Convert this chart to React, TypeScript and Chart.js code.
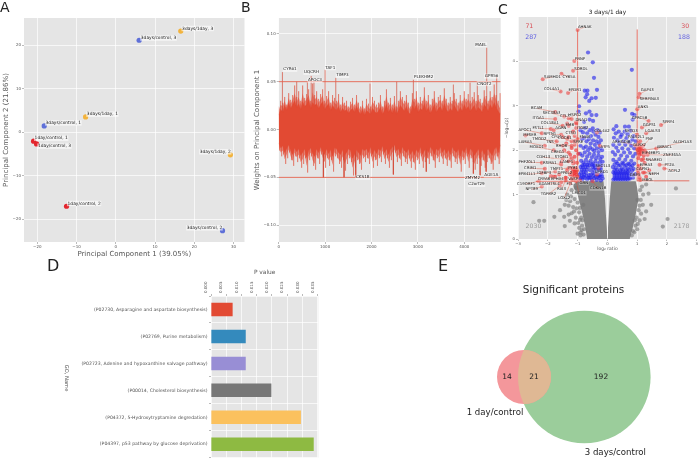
import React, { useEffect, useRef } from "react";
import { Chart, registerables } from "chart.js";
Chart.register(...registerables);

const W = 699, H = 462;
const SANS = "'DejaVu Sans'";
const TEXT = "#555555";
const PANEL = "#e5e5e5";
const RED = "#e24a33";

/* ---------- Panel A ---------- */
const pcaNames = ["1day/control, 1", "1day/control, 2", "1day/control, 3", "3days/control, 1", "3days/control, 2", "3days/control, 3", "3days/1day, 1", "3days/1day, 2", "3days/1day, 3"];
const pcaX = [-20.96, -12.56, -20.2, -18.25, 27.2, 5.94, -7.7, 29.2, 16.55];
const pcaY = [-2.06, -17, -2.7, 1.44, -22.6, 21.1, 3.5, -5.2, 23.2];
const pcaLabelX = [-20.7, -12.3, -19.86, -17.9, 18.08, 6.37, -7.38, 21.4, 16.9];
const pcaLabelY = [-1.38, -16.35, -3.2, 2.13, -21.95, 21.6, 4.13, -4.5, 23.8];
const pcaColors = ["#e3262e", "#e3262e", "#e3262e", "#5f70d8", "#5f70d8", "#5f70d8", "#f2b33d", "#f2b33d", "#f2b33d"];
const pcaTicksX = [-20, -10, 0, 10, 20, 30];
const pcaTicksY = [-20, -10, 0, 10, 20];

/* ---------- Panel B ---------- */
const weightBinWidth = 43;
const weightTicksX = [0, 1000, 2000, 3000, 4000];
const weightTicksY = [-0.1, -0.05, 0, 0.05, 0.1];
const spikeUp = [0.024,0.030,0.028,0.034,0.026,0.038,0.031,0.036,0.046,0.034,0.040,0.030,0.046,0.033,0.037,0.042,0.030,0.048,0.036,0.040,0.032,0.037,0.042,0.030,0.035,0.040,0.028,0.036,0.033,0.030,0.037,0.026,0.034,0.028,0.030,0.024,0.029,0.033,0.026,0.036,0.028,0.024,0.030,0.022,0.032,0.027,0.024,0.034,0.030,0.026,0.028,0.036,0.024,0.030,0.042,0.028,0.033,0.026,0.035,0.024,0.030,0.040,0.034,0.030,0.036,0.028,0.024,0.038,0.032,0.040,0.028,0.034,0.030,0.044,0.030,0.036,0.026,0.032,0.040,0.028,0.034,0.036,0.030,0.043,0.032,0.028,0.034,0.030,0.038,0.032,0.028,0.036,0.030,0.040,0.032,0.037,0.030,0.034,0.039,0.030,0.036,0.032,0.028,0.041,0.035,0.030,0.040,0.034,0.047,0.036,0.030,0.038];
const spikeDown = [-0.022,-0.028,-0.026,-0.036,-0.030,-0.024,-0.032,-0.038,-0.028,-0.034,-0.030,-0.040,-0.036,-0.030,-0.045,-0.032,-0.028,-0.038,-0.042,-0.030,-0.036,-0.026,-0.034,-0.040,-0.030,-0.038,-0.032,-0.044,-0.028,-0.030,-0.036,-0.040,-0.032,-0.043,-0.036,-0.030,-0.034,-0.048,-0.040,-0.032,-0.036,-0.042,-0.030,-0.034,-0.030,-0.036,-0.028,-0.040,-0.032,-0.038,-0.030,-0.034,-0.026,-0.036,-0.030,-0.040,-0.032,-0.028,-0.024,-0.034,-0.030,-0.038,-0.028,-0.034,-0.036,-0.030,-0.040,-0.034,-0.042,-0.032,-0.036,-0.028,-0.040,-0.034,-0.030,-0.036,-0.028,-0.032,-0.040,-0.030,-0.034,-0.028,-0.036,-0.030,-0.038,-0.032,-0.040,-0.028,-0.034,-0.036,-0.030,-0.044,-0.032,-0.036,-0.028,-0.040,-0.030,-0.034,-0.042,-0.036,-0.030,-0.038,-0.032,-0.040,-0.034,-0.030,-0.036,-0.042,-0.032,-0.028,-0.036,-0.030];
const midUp = [0.020,0.026,0.024,0.030,0.023,0.033,0.027,0.031,0.038,0.029,0.034,0.026,0.038,0.029,0.032,0.036,0.026,0.039,0.031,0.034,0.028,0.032,0.036,0.026,0.030,0.034,0.024,0.031,0.028,0.026,0.031,0.022,0.029,0.024,0.026,0.021,0.025,0.028,0.022,0.031,0.024,0.020,0.026,0.019,0.027,0.023,0.021,0.029,0.026,0.022,0.024,0.030,0.021,0.026,0.035,0.024,0.028,0.022,0.030,0.021,0.026,0.034,0.029,0.026,0.031,0.024,0.021,0.032,0.028,0.034,0.024,0.029,0.026,0.036,0.026,0.031,0.022,0.028,0.034,0.024,0.029,0.031,0.026,0.036,0.028,0.024,0.029,0.026,0.032,0.028,0.024,0.031,0.026,0.034,0.028,0.032,0.026,0.029,0.033,0.026,0.031,0.028,0.024,0.035,0.030,0.026,0.034,0.029,0.038,0.031,0.026,0.022];
const midDown = [-0.018,-0.024,-0.022,-0.031,-0.026,-0.021,-0.028,-0.033,-0.024,-0.029,-0.026,-0.034,-0.031,-0.026,-0.038,-0.028,-0.024,-0.032,-0.036,-0.026,-0.031,-0.022,-0.029,-0.034,-0.026,-0.032,-0.028,-0.037,-0.024,-0.026,-0.031,-0.034,-0.028,-0.036,-0.031,-0.026,-0.029,-0.040,-0.034,-0.028,-0.031,-0.036,-0.026,-0.029,-0.026,-0.031,-0.024,-0.034,-0.028,-0.032,-0.026,-0.029,-0.022,-0.031,-0.026,-0.034,-0.028,-0.024,-0.021,-0.029,-0.026,-0.032,-0.024,-0.029,-0.031,-0.026,-0.034,-0.029,-0.036,-0.028,-0.031,-0.024,-0.034,-0.029,-0.026,-0.031,-0.024,-0.028,-0.034,-0.026,-0.029,-0.024,-0.031,-0.026,-0.032,-0.028,-0.034,-0.024,-0.029,-0.031,-0.026,-0.037,-0.028,-0.031,-0.024,-0.034,-0.026,-0.029,-0.036,-0.031,-0.026,-0.032,-0.028,-0.034,-0.029,-0.026,-0.031,-0.036,-0.028,-0.024,-0.031,-0.022];
const coreUp = [0.015,0.021,0.018,0.025,0.020,0.028,0.022,0.026,0.030,0.023,0.027,0.021,0.029,0.024,0.026,0.031,0.022,0.028,0.025,0.027,0.022,0.026,0.029,0.021,0.024,0.027,0.020,0.025,0.022,0.020,0.024,0.018,0.022,0.019,0.021,0.017,0.020,0.022,0.018,0.024,0.019,0.016,0.021,0.015,0.020,0.018,0.016,0.022,0.019,0.017,0.019,0.023,0.016,0.020,0.026,0.018,0.022,0.017,0.023,0.016,0.020,0.025,0.022,0.019,0.024,0.018,0.016,0.025,0.021,0.026,0.018,0.022,0.020,0.027,0.019,0.023,0.017,0.021,0.026,0.018,0.022,0.024,0.019,0.027,0.021,0.018,0.022,0.019,0.025,0.021,0.018,0.023,0.019,0.026,0.021,0.024,0.019,0.022,0.025,0.019,0.023,0.021,0.018,0.026,0.023,0.019,0.026,0.022,0.028,0.023,0.019,0.016];
const coreDown = [-0.014,-0.019,-0.017,-0.024,-0.020,-0.016,-0.022,-0.026,-0.019,-0.023,-0.020,-0.027,-0.024,-0.020,-0.029,-0.022,-0.019,-0.025,-0.028,-0.020,-0.024,-0.018,-0.023,-0.026,-0.020,-0.025,-0.021,-0.028,-0.019,-0.020,-0.024,-0.026,-0.021,-0.027,-0.024,-0.020,-0.022,-0.030,-0.026,-0.021,-0.024,-0.027,-0.020,-0.022,-0.020,-0.024,-0.018,-0.026,-0.021,-0.025,-0.020,-0.022,-0.017,-0.024,-0.020,-0.026,-0.021,-0.018,-0.016,-0.022,-0.020,-0.025,-0.018,-0.022,-0.024,-0.020,-0.026,-0.022,-0.027,-0.021,-0.024,-0.018,-0.026,-0.022,-0.020,-0.024,-0.018,-0.021,-0.026,-0.020,-0.022,-0.018,-0.024,-0.020,-0.025,-0.021,-0.026,-0.018,-0.022,-0.024,-0.020,-0.028,-0.021,-0.024,-0.018,-0.026,-0.020,-0.022,-0.027,-0.024,-0.020,-0.025,-0.021,-0.026,-0.022,-0.020,-0.024,-0.027,-0.021,-0.018,-0.024,-0.016];
const peakX = [80, 388, 618, 700, 760, 1000, 1230, 1968, 2543, 2902, 3764, 4124, 4280, 4483, 4698, 963, 1408, 1660, 2471, 3180, 4195, 4340, 4470];
const peakY = [0.06, 0.05, 0.05, 0.056, 0.05, 0.0625, 0.054, 0.048, 0.05, 0.052, 0.047, 0.049, 0.05, 0.0855, 0.055, -0.05, -0.05, -0.05, -0.047, -0.044, -0.046, -0.048, -0.044];
const thresholdX = [0, 4784];
const thresholdUp = [0.05, 0.05];
const thresholdDown = [-0.05, -0.05];
const geneNames = ["CYR61", "UQCRH", "APOC3", "TAF1", "TIMP3", "PLEKHM2", "CKS1B", "MAEL", "GPR56", "CNOT2", "ZMYM2", "C2orf29", "AGE1A"];
const geneX = [100, 545, 631, 1005, 1242, 2916, 1666, 4238, 4440, 4280, 4015, 4087, 4432];
const geneY = [0.0628, 0.0597, 0.0513, 0.0646, 0.0566, 0.0552, -0.05, 0.0885, 0.0558, 0.048, -0.0504, -0.0573, -0.0476];

/* ---------- Panel C ---------- */
const volcanoTicksX = [-3, -2, -1, 0, 1, 2, 3];
const volcanoTicksY = [0, 1, 2, 3, 4];
const grayLeftX = [-1.15, -1.0, -0.85, -0.75, -0.68, -0.5, -0.3, -0.13, -0.08, -0.05, -0.02, 0];
const grayLeftTop = [1.22, 1.3, 1.3, 1.3, 1.3, 1.3, 1.3, 1.3, 0.9, 0.55, 0.25, 0.02];
const grayLeftBottom = [1.18, 1.0, 0.6, 0.3, 0, 0, 0, 0, 0, 0, 0, 0];
const grayRightX = [0, 0.02, 0.05, 0.08, 0.13, 0.3, 0.5, 0.75, 0.85, 0.95, 1.0, 1.05];
const grayRightTop = [0.02, 0.25, 0.55, 0.9, 1.3, 1.3, 1.3, 1.3, 1.3, 1.3, 1.15, 0.9];
const grayRightBottom = [0, 0, 0, 0, 0, 0, 0, 0, 0.25, 0.55, 0.75, 0.9];
const grayPoints = [[-2.48,0.83],[-2.29,0.41],[-2.12,0.41],[-1.59,0.65],[-1.78,0.5],[-1.26,0.41],[-1.43,0.29],[-1.2,0.58],[-0.92,0.43],[-0.81,0.77],[-1.43,0.77],[-1.03,0.69],[-1.1,0.9],[-1.25,0.85],[-1.35,1.0],[-0.95,0.25],[-1.0,0.12],[-0.9,0.15],[-1.1,0.35],[-1.3,0.55],[-1.45,0.5],[-0.95,0.6],[-1.2,1.1],[-1.05,1.15],[-0.85,0.3],[-0.8,0.1],[-1.0,0.82],[-1.15,0.72],[-0.88,0.48],[-0.78,0.22],[-1.12,0.62],[-1.06,0.48],[-0.98,0.36],[-0.9,0.08],[-0.86,0.2],[-1.22,0.96],[-1.3,0.75],[-1.38,0.88],[-0.92,0.7],[-0.84,0.42],
[2.3,1.14],[2.02,0.45],[1.86,0.28],[1.47,0.77],[1.19,0.77],[1.3,1.23],[1.01,0.88],[1.13,0.57],[1.08,0.42],[0.95,0.3],[0.9,0.15],[1.2,1.0],[1.1,1.1],[1.05,0.65],[0.82,0.08],[0.98,0.48],[1.0,0.22],[1.25,0.45],[1.12,0.88],[0.92,0.42],[1.02,0.34],[0.86,0.18],[1.16,1.18],[1.08,0.75],[1.3,0.62],[1.38,1.02]];
const bluePoints = [[-0.65,4.2],[-0.49,3.98],[-0.45,3.63],[0.82,3.81],[-0.35,3.36],[-0.76,3.34],[-0.67,3.34],[-0.68,3.26],[-0.73,3.19],[-0.53,3.17],[-0.39,3.18],[-0.61,3.11],[-0.95,2.99],[0.59,2.91],[0.83,2.82],[0.91,2.79],[0.85,2.69],[-0.97,2.87],[-0.6,2.87],[-0.72,2.83],[-0.37,2.79],[-0.53,2.79],[-0.78,2.64],[-0.6,2.69],[-0.48,2.66],[0.3,2.54],[0.59,2.53],[0.72,2.53],[0.21,2.47],[-0.49,2.49],
[-0.9,2.45],[-0.82,2.4],[-0.75,2.5],[-0.68,2.38],[-0.6,2.45],[-0.55,2.32],[-0.47,2.42],[-0.4,2.35],[-0.33,2.45],[-0.3,2.3],[-0.25,2.4],[-0.85,2.25],[-0.78,2.28],[-0.7,2.2],[-0.62,2.25],[-0.56,2.15],[-0.48,2.22],[-0.42,2.12],[-0.36,2.2],[-0.28,2.15],[-0.22,2.22],[-0.9,2.1],[-0.8,2.05],[-0.72,2.08],[-0.65,2.0],[-0.58,2.06],[-0.5,2.02],[-0.44,1.98],[-0.36,2.04],[-0.3,1.96],[-0.24,2.05],[-0.18,2.0],
[-0.92,1.92],[-0.84,1.88],[-0.76,1.95],[-0.68,1.86],[-0.6,1.92],[-0.52,1.84],[-0.45,1.9],[-0.38,1.82],[-0.3,1.88],[-0.24,1.8],[-0.18,1.85],[-0.88,1.76],[-0.8,1.72],[-0.72,1.78],[-0.64,1.72],[-0.56,1.76],[-0.48,1.7],[-0.4,1.75],[-0.34,1.68],[-0.26,1.72],[-0.2,1.66],[-0.16,1.74],
[-0.9,1.62],[-0.86,1.56],[-0.82,1.62],[-0.78,1.56],[-0.74,1.62],[-0.7,1.56],[-0.66,1.62],[-0.88,1.5],[-0.8,1.5],[-0.72,1.5],[-0.5,1.62],[-0.46,1.56],[-0.42,1.62],[-0.38,1.56],[-0.48,1.49],[-0.4,1.48],[-0.58,1.55],[-0.28,1.55],[-0.22,1.58],[-0.18,1.5],
[-0.92,1.36],[-0.84,1.34],[-0.76,1.38],[-0.68,1.34],[-0.6,1.38],[-0.52,1.33],[-0.44,1.37],[-0.36,1.33],[-0.28,1.37],[-0.22,1.32],[-0.16,1.36],[-0.62,1.44],[-0.3,1.44],[-0.86,1.43],[-0.55,1.45],[-0.7,1.42],[-0.78,1.45],[-0.94,1.45],[-0.22,1.45],[-0.48,1.42],[-0.4,1.4],[-0.36,1.46],[-0.88,1.38],[-0.8,1.4],[-0.64,1.38],[-0.56,1.38],[-0.32,1.4],[-0.26,1.42],[-0.18,1.42],[-0.84,1.66],[-0.76,1.68],[-0.68,1.67],[-0.6,1.66],[-0.52,1.68],[-0.44,1.65],[-0.36,1.62],[-0.3,1.6],[-0.24,1.62],
[0.28,2.38],[0.38,2.42],[0.48,2.35],[0.58,2.42],[0.68,2.36],[0.78,2.44],[0.88,2.32],[0.22,2.28],[0.34,2.22],[0.44,2.3],[0.54,2.2],[0.64,2.27],[0.74,2.18],[0.84,2.24],[0.95,2.2],[0.2,2.12],[0.3,2.06],[0.4,2.14],[0.5,2.04],[0.6,2.12],[0.7,2.02],[0.8,2.1],[0.9,2.04],
[0.18,1.96],[0.26,1.9],[0.36,1.98],[0.46,1.88],[0.56,1.95],[0.66,1.86],[0.76,1.94],[0.86,1.86],[0.94,1.92],[0.2,1.78],[0.3,1.74],[0.4,1.8],[0.5,1.72],[0.6,1.78],[0.7,1.7],[0.8,1.76],[0.9,1.7],[0.18,1.62],[0.28,1.6],[0.38,1.65],[0.48,1.58],[0.58,1.64],[0.68,1.58],[0.78,1.62],[0.88,1.58],[0.24,1.68],[0.34,1.7],[0.44,1.66],[0.54,1.7],[0.64,1.66],[0.74,1.68],[0.84,1.66],[0.24,1.55],[0.33,1.56],[0.43,1.55],[0.53,1.56],[0.63,1.55],[0.73,1.55],[0.83,1.54],
[0.2,1.5],[0.24,1.42],[0.2,1.34],[0.28,1.5],[0.32,1.42],[0.28,1.34],[0.36,1.5],[0.4,1.42],[0.36,1.34],[0.44,1.5],[0.48,1.42],[0.44,1.34],[0.52,1.5],[0.56,1.42],[0.52,1.34],[0.6,1.5],[0.64,1.42],[0.6,1.34],[0.68,1.5],[0.72,1.42],[0.68,1.34],[0.76,1.36],[0.8,1.46],[0.86,1.38],[0.94,1.46],[0.24,1.37],[0.32,1.37],[0.4,1.37],[0.48,1.37],[0.56,1.37],[0.64,1.37],[0.72,1.37],[0.24,1.47],[0.32,1.47],[0.4,1.47],[0.48,1.47],[0.56,1.47],[0.64,1.47],[0.72,1.47]];
const redPoints = [[-1.1,2.2],[-1.2,2.05],[-1.05,2.0],[-1.25,1.9],[-1.1,1.85],[-0.98,1.92],[-1.3,1.75],[-1.15,1.7],[-1.02,1.72],[-1.22,1.6],[-1.1,1.58],[-1.02,1.54],[-1.14,1.52],[-1.06,1.5],[-1.25,1.45],[-1.1,1.42],[-1.0,1.4],[-1.35,1.55],[-1.4,1.38],[-1.2,1.35],[-1.55,1.72],[-1.62,1.45],[-1.75,1.4],[-1.9,1.42],[-1.45,2.0],[-1.38,2.15],[-1.3,2.3],[-1.15,2.42],[-1.05,2.6],[-1.3,2.55],[-1.5,2.3],[-1.08,1.55],[-1.12,1.48],[-1.04,1.46],[-1.16,1.56],[-1.18,1.44],[-1.2,1.5],[-1.06,1.6],
[1.05,2.15],[1.12,2.05],[1.02,2.0],[1.2,1.98],[1.08,1.9],[1.3,1.95],[1.04,1.82],[1.15,1.78],[1.25,1.72],[1.05,1.65],[1.12,1.58],[1.2,1.5],[1.04,1.48],[1.3,1.4],[1.08,1.38],[1.4,1.55],[1.06,2.03],[1.1,1.98],[1.04,1.94],[1.14,1.92],[1.16,2.0],[1.22,1.88],[1.08,2.08]];
// name, label x, label y, marker x, marker y
const volcanoLabels: [string, number, number, number, number][] = [
  ["AHNAK",-0.76,4.77,-1.0,4.71],["PRNP",-0.92,4.06,-1.11,4.01],["SORDL",-0.89,3.84,-1.15,3.79],["CYB5A",-1.29,3.65,-1.54,3.72],["SAMHD1",-1.84,3.65,-2.17,3.6],["COL4A1",-1.87,3.37,-1.57,3.32],["EPDR1",-1.09,3.36,-1.32,3.29],
  ["GAP43",1.34,3.35,1.08,3.27],["SERPINA3",1.41,3.15,1.05,3.19],["ANK5",1.2,2.98,1.0,2.92],["GPRC5B",1.08,2.73,1.38,2.66],["SPRY4",2.05,2.64,1.8,2.57],["GGPS1",1.41,2.57,1.16,2.51],["LGALS3",1.52,2.44,1.3,2.38],["SETD3",0.8,2.44,1.0,2.35],["PALS2L1",0.97,2.3,1.1,2.2],["PNP",1.41,2.25,1.2,2.1],["ALDH1A3",2.52,2.18,1.64,2.04],["GLRX2",1.08,2.12,1.0,2.02],["ABRACL",1.91,2.07,1.25,2.0],["ARHGDIB",0.47,2.19,0.95,2.1],["EIF4EBP1",1.47,1.94,1.1,1.98],["ZNF365A",2.17,1.89,1.35,1.9],
  ["SNARED",1.56,1.78,1.2,1.8],["EPHA3",1.3,1.67,1.05,1.62],["PT2A",2.08,1.67,1.75,1.67],["ACPL2",2.25,1.54,1.91,1.59],["NEFH",1.56,1.46,1.25,1.5],["CAPN1",1.19,1.58,1.02,1.55],["MBOL",1.36,1.32,1.1,1.33],["GBP5",0.93,1.44,1.06,1.44],
  ["CREG1",-1.67,1.96,-1.3,1.95],["CDH13",-2.15,1.84,-1.5,1.8],["STOM1",-1.54,1.84,-1.2,1.82],["PHF20L1",-2.7,1.73,-2.2,1.72],["RSMA1",-1.93,1.71,-1.55,1.68],["LAMP1",-1.37,1.73,-1.15,1.75],["CRIM1",-2.59,1.59,-2.1,1.58],["TMPT1",-1.7,1.57,-1.3,1.6],["PYR1",-1.15,1.61,-1.04,1.58],["EPB41L1",-2.7,1.46,-2.2,1.48],["IGFBP3",-2.12,1.48,-1.75,1.52],["DPP6L2",-1.43,1.49,-1.14,1.5],["CRYAB",-2.13,1.35,-1.8,1.4],["EPHX4",-1.68,1.35,-1.4,1.38],["VASP",-1.15,1.35,-1.02,1.4],["C19ORF1",-2.73,1.24,-2.3,1.3],["ADAMTSL4",-1.95,1.23,-1.55,1.28],["FTL",-1.26,1.23,-1.15,1.33],["NPT89",-2.54,1.12,-2.2,1.18],["RAI3",-1.54,1.12,-1.4,1.32],["LMCD1",-0.95,1.03,-1.05,1.3],["TGFBR2",-1.98,1.01,-1.6,1.2],["LOXL2",-1.45,0.92,-1.25,1.25],["GRN",-0.79,1.27,-0.92,1.32],["CDKN1B",-0.31,1.14,-0.5,1.3],["SEC1L3",-0.15,1.65,-0.3,1.6],["UPRD1",-0.2,1.5,-0.35,1.45],
  ["BCAM",-2.37,2.94,-1.75,2.86],["SEC38A3",-1.87,2.83,-1.45,2.76],["CTL3",-1.43,2.78,-1.2,2.7],["HSPG2",-1.09,2.79,-1.3,2.72],["ITGA1",-2.32,2.72,-1.75,2.7],["COL18A1",-1.93,2.61,-1.5,2.55],["EMB",-1.26,2.57,-1.35,2.6],["DNAJ1",-0.87,2.68,-1.05,2.63],["ITGB2",-0.83,2.51,-1.05,2.5],["FSTL1",-2.32,2.49,-1.9,2.48],["AGRN",-1.56,2.49,-1.8,2.45],["APOC1",-2.76,2.45,-2.2,2.38],["MFSER",-2.6,2.34,-2.75,2.33],["RPTN1",-1.93,2.36,-1.55,2.35],["CTSD",-1.23,2.38,-1.1,2.32],["COL4A2",-0.18,2.43,-0.35,2.4],["TMOD2",-2.28,2.25,-1.7,2.2],["CPU1",-1.7,2.3,-1.35,2.25],["COCB1",-1.43,2.27,-1.2,2.2],["FNAB",-0.76,2.3,-1.0,2.25],["LAMA5",-2.76,2.18,-2.1,2.1],["TNS",-1.93,2.18,-1.5,2.1],["MOXD1",-2.37,2.07,-1.8,2.0],["RHOB",-1.54,2.1,-1.2,2.1],["SPRE",-0.98,2.18,-1.1,2.12],["ATP5",-0.07,2.08,-0.25,2.1]
];
const significanceLines = [[-1, 1.3], [-1, 4.72], [null, null], [1, 1.3], [1, 4.72], [null, null], [-2.4, 1.3], [-1, 1.3], [null, null], [1, 1.31], [2.75, 1.31]];
const countLabels: [string, number, number, string][] = [["71",-2.62,4.78,"#d94d55"],["287",-2.56,4.53,"#5a5ae0"],["30",2.61,4.78,"#d94d55"],["188",2.57,4.53,"#5a5ae0"],["2030",-2.48,0.28,"#9a9a9a"],["2178",2.49,0.28,"#9a9a9a"]];

/* ---------- Panel D ---------- */
const pathways = ["(P02730, Asparagine and aspartate biosynthesis)", "(P02769, Purine metabolism)", "(P02723, Adenine and hypoxanthine salvage pathway)", "(P00014, Cholesterol biosynthesis)", "(P04372, 5-Hydroxytryptamine degredation)", "(P04397, p53 pathway by glucose deprivation)"];
const pValues = [0.0071, 0.0114, 0.0114, 0.0198, 0.0295, 0.0337];
const pColors = ["#e24a33", "#348abd", "#988ed5", "#777777", "#fbc15e", "#8eba42"];
const pTicks = [0, 0.005, 0.01, 0.015, 0.02, 0.025, 0.03, 0.035];

/* ---------- Panel E ---------- */
const vennX = [94, 154.3];
const vennY = [127, 127];
const vennR = [27, 66.3];
const vennColors = ["#f4979b", "#9bcd9b"];
const vennOverlapColor = "#dfb894";
const vennNotes: [string, number, number, number][] = [["Significant proteins",143.5,40.7,10.5],["14",77,127,7.5],["21",104,127,7.5],["192",171,127,7.5],["1 day/control",65,162.7,8.6],["3 days/control",185.3,202.3,8.6]];

const panelLetters: [string, number, number, number][] = [["A", 0, 0, 14], ["B", 241, 0, 14], ["C", 498, 2, 14], ["D", 47, 258, 16], ["E", 438, 258, 16]];

/* ---------- helpers ---------- */
type Note = { text: string; x: number; y: number; size: number; color?: string; align?: CanvasTextAlign; box?: string; pixel?: boolean; rotate?: number };
const notesPlugin = (items: Note[]) => ({
  id: "notes",
  afterDatasetsDraw(chart: any) {
    const { ctx, scales } = chart;
    for (const n of items) {
      const px = n.pixel ? n.x : scales.x.getPixelForValue(n.x);
      const py = n.pixel ? n.y : scales.y.getPixelForValue(n.y);
      ctx.save();
      ctx.translate(px, py);
      if (n.rotate) ctx.rotate(n.rotate);
      ctx.font = `${n.size}px ${SANS}`;
      ctx.textAlign = n.align || "center";
      ctx.textBaseline = "middle";
      if (n.box) {
        const w = ctx.measureText(n.text).width;
        const left = n.align === "left" ? 0 : -w / 2;
        ctx.fillStyle = n.box;
        ctx.fillRect(left - 0.6, -n.size * 0.62, w + 1.2, n.size * 1.24);
      }
      ctx.fillStyle = n.color || "#222222";
      ctx.fillText(n.text, 0, 0);
      ctx.restore();
    }
  },
});
const panelBg = {
  id: "panelBg",
  beforeDraw(chart: any) {
    const { ctx, chartArea: a } = chart;
    ctx.save();
    ctx.fillStyle = PANEL;
    ctx.fillRect(a.left, a.top, a.right - a.left, a.bottom - a.top);
    ctx.restore();
  },
};
const sized = (size: number) => (s: any) => {
  if (s.isHorizontal()) s.height = size;
  else s.width = size;
};
const grid = { color: "#ffffff", lineWidth: 0.7, tickLength: 2, tickColor: "#777777", tickWidth: 0.5 };
const axis = (min: number, max: number, tickValues: number[], size: number, fmt: (v: number) => string, fontSize = 4, title?: string, titleSize = 7) => ({
  type: "linear",
  min,
  max,
  afterFit: sized(size),
  afterBuildTicks: (s: any) => { s.ticks = tickValues.map((value) => ({ value })); },
  grid,
  border: { display: false },
  ticks: { autoSkip: false, maxRotation: 0, padding: 1, color: TEXT, font: { size: fontSize, family: SANS }, callback: (v: any) => fmt(Number(v)) },
  title: title ? { display: true, text: title, color: TEXT, padding: 0, font: { size: titleSize, family: SANS } } : { display: false },
});
const minus = (s: string) => s.replace("-", "\u2212");
const intFmt = (v: number) => minus(String(Math.round(v)));
const base = (padding: any) => ({
  responsive: false,
  animation: false as const,
  events: [] as any[],
  layout: { padding, autoPadding: false },
  plugins: { legend: { display: false }, tooltip: { enabled: false } },
});
const pairs = (list: any[][]) => list.map(([x, y]) => ({ x, y }));
const zip = (xs: number[], ys: number[]) => xs.map((x, i) => ({ x, y: ys[i] }));

function buildA(c: HTMLCanvasElement) {
  return new Chart(c, {
    type: "scatter",
    data: { datasets: [{ data: zip(pcaX, pcaY), backgroundColor: pcaColors, pointRadius: 2.6, borderWidth: 0 }] },
    options: {
      ...base({ left: 1.5, top: 18, right: W - 244.5, bottom: H - 242 - 16.2 }),
      scales: {
        x: axis(-23.4, 32.8, pcaTicksX, 16.2, intFmt, 4, "Principal Component 1 (39.05%)"),
        y: axis(-25.2, 26.2, pcaTicksY, 22.5, intFmt, 4, "Principal Component 2 (21.86%)"),
      },
    } as any,
    plugins: [panelBg, notesPlugin(pcaNames.map((t, i) => ({ text: t, x: pcaLabelX[i], y: pcaLabelY[i], size: 4.4, align: "left" as const, box: "rgba(255,255,255,0.6)" })))],
  });
}

function buildB(c: HTMLCanvasElement) {
  const zigzag = spikeUp.flatMap((u, i) => [{ x: i * weightBinWidth, y: u }, { x: (i + 0.5) * weightBinWidth, y: spikeDown[i] }]);
  const peaks = peakX.flatMap((x, i) => [{ x, y: 0 }, { x, y: peakY[i] }, { x, y: null }]);
  const line = { pointRadius: 0, tension: 0, fill: false };
  const series = (ys: number[]) => ys.map((y, i) => ({ x: i * weightBinWidth, y }));
  return new Chart(c, {
    type: "line",
    data: {
      datasets: [
        { ...line, data: series(coreUp), borderColor: RED, borderWidth: 0.5, backgroundColor: RED, fill: { target: 1 }, order: 1 },
        { ...line, data: series(coreDown), borderColor: RED, borderWidth: 0.5, order: 1 },
        { ...line, data: zigzag, borderColor: "rgba(226,74,51,0.5)", borderWidth: 0.9, order: 3 },
        { ...line, data: peaks, borderColor: "rgba(212,70,50,0.85)", borderWidth: 0.8, order: 2 },
        { ...line, data: zip(thresholdX, thresholdUp), borderColor: "#e0604c", borderWidth: 0.9, order: 0 },
        { ...line, data: zip(thresholdX, thresholdDown), borderColor: "#e0604c", borderWidth: 0.9, order: 0 },
        { ...line, data: series(midUp), borderWidth: 0, backgroundColor: "rgba(226,74,51,0.6)", fill: { target: 7 }, order: 4 },
        { ...line, data: series(midDown), borderWidth: 0, order: 4 },
      ] as any,
    },
    options: {
      ...base({ left: 252.5, top: 18, right: W - 500.7, bottom: H - 242 - 12 }),
      scales: {
        x: axis(0, 4784, weightTicksX, 12, intFmt, 4),
        y: axis(-0.1175, 0.1165, weightTicksY, 26.2, (v) => minus(v.toFixed(2)), 4, "Weights on Principal Component 1"),
      },
    } as any,
    plugins: [panelBg, notesPlugin(geneNames.map((t, i) => ({ text: t, x: geneX[i], y: geneY[i], size: 4.1, align: "left" as const, box: "rgba(255,255,255,0.55)" })))],
  });
}

function buildC(c: HTMLCanvasElement) {
  const leaders = volcanoLabels.flatMap(([, lx, ly, px, py]) => [{ x: lx, y: ly }, { x: px, y: py }, { x: px, y: null }]);
  const anchors = volcanoLabels.map(([, , , px, py]) => ({ x: px, y: py }));
  const area = { type: "scatter", showLine: true, pointRadius: 0, borderWidth: 0, backgroundColor: "#858585" };
  const notes: Note[] = [
    ...volcanoLabels.map(([t, x, y]) => ({ text: t, x, y, size: 3.9, box: "rgba(255,255,255,0.3)" })),
    ...countLabels.map(([t, x, y, color]) => ({ text: t, x, y, size: 6.2, color })),
    { text: "3 days/1 day", x: 0, y: 5.1, size: 5.8 },
  ];
  return new Chart(c, {
    type: "scatter",
    data: {
      datasets: [
        { data: leaders, showLine: true, spanGaps: false, pointRadius: 0, borderColor: "rgba(226,74,51,0.6)", borderWidth: 0.7, order: 0 },
        { data: pairs(significanceLines), showLine: true, spanGaps: false, pointRadius: 0, borderColor: "rgba(226,84,70,0.8)", borderWidth: 1, order: 1 },
        { data: anchors, pointRadius: 2, backgroundColor: "rgba(235,70,70,0.6)", borderWidth: 0, order: 2 },
        { data: pairs(redPoints), pointRadius: 2, backgroundColor: "rgba(240,50,50,0.65)", borderWidth: 0, order: 3 },
        { data: pairs(bluePoints), pointRadius: 2.1, backgroundColor: "rgba(35,35,235,0.62)", borderWidth: 0, order: 4 },
        { data: pairs(grayPoints), pointRadius: 2.1, backgroundColor: "rgba(120,120,120,0.62)", borderWidth: 0, order: 5 },
        { ...area, data: zip(grayLeftX, grayLeftTop), fill: { target: 7 }, order: 6 },
        { ...area, data: zip(grayLeftX, grayLeftBottom), order: 6 },
        { ...area, data: zip(grayRightX, grayRightTop), fill: { target: 9 }, order: 6 },
        { ...area, data: zip(grayRightX, grayRightBottom), order: 6 },
      ] as any,
    },
    options: {
      ...base({ left: 504.3, top: 17, right: W - 698, bottom: H - 239 - 12.7 }),
      scales: {
        x: axis(-3, 3, volcanoTicksX, 12.7, intFmt, 3.8, "log\u2082 ratio", 4.5),
        y: axis(0, 5, volcanoTicksY, 13.7, intFmt, 3.8, "\u2212log\u2081\u2080(p)", 4.5),
      },
    } as any,
    plugins: [panelBg, notesPlugin(notes)],
  });
}

function buildD(c: HTMLCanvasElement) {
  const xAxis: any = axis(0, 0.0352, pTicks, 26.8, (v) => v.toFixed(3), 4, "P value", 5.9);
  return new Chart(c, {
    type: "bar",
    data: { labels: pathways, datasets: [{ data: pValues, backgroundColor: pColors, barPercentage: 0.5, categoryPercentage: 1 }] },
    options: {
      ...base({ left: 11, top: 269.2, right: W - 318.3, bottom: 0 }),
      indexAxis: "y",
      scales: {
        x: { ...xAxis, position: "top", ticks: { ...xAxis.ticks, minRotation: 90, maxRotation: 90 } },
        y: {
          afterFit: sized(200),
          grid,
          border: { display: false },
          ticks: { autoSkip: false, padding: 1.5, color: TEXT, font: { size: 4.6, family: SANS } },
        },
      },
    } as any,
    plugins: [panelBg, notesPlugin([{ text: "GO, Name", x: 66, y: 378, size: 5.2, color: TEXT, pixel: true, rotate: Math.PI / 2 }])],
  });
}

function buildE(c: HTMLCanvasElement) {
  const lens = {
    id: "lens",
    afterDatasetsDraw(chart: any) {
      const [a] = chart.getDatasetMeta(0).data;
      const [b] = chart.getDatasetMeta(1).data;
      const { ctx } = chart;
      ctx.save();
      ctx.beginPath();
      ctx.arc(a.x, a.y, a.options.radius, 0, Math.PI * 2);
      ctx.clip();
      ctx.beginPath();
      ctx.arc(b.x, b.y, b.options.radius, 0, Math.PI * 2);
      ctx.fillStyle = vennOverlapColor;
      ctx.fill();
      ctx.restore();
    },
  };
  return new Chart(c, {
    type: "bubble",
    data: {
      datasets: vennX.map((x, i) => ({ data: [{ x, y: vennY[i], r: vennR[i] }], backgroundColor: vennColors[i], borderWidth: 0, clip: false })) as any,
    },
    options: {
      ...base({ left: 430, top: 250, right: 0, bottom: 0 }),
      scales: {
        x: { type: "linear", display: false, min: 0, max: 269 },
        y: { type: "linear", display: false, min: 0, max: 212, reverse: true },
      },
    } as any,
    plugins: [lens, notesPlugin(vennNotes.map(([t, x, y, size]) => ({ text: t, x, y, size })))],
  });
}

const builders = [buildA, buildB, buildC, buildD, buildE];

export default function App() {
  const refs = useRef<(HTMLCanvasElement | null)[]>([]);
  useEffect(() => {
    const charts = builders.map((b, i) => b(refs.current[i] as HTMLCanvasElement));
    return () => charts.forEach((ch) => ch.destroy());
  }, []);
  return (
    <div style={{ position: "fixed", left: 0, top: 0, width: W, height: H, overflow: "hidden", background: "#fff" }}>
      {builders.map((_, i) => (
        <canvas key={i} ref={(el) => { refs.current[i] = el; }} width={W} height={H} style={{ position: "absolute", left: 0, top: 0, width: W, height: H }} />
      ))}
      {panelLetters.map(([t, x, y, size]) => (
        <div key={t} style={{ position: "absolute", left: x, top: y, font: `${size}px/${size}px ${SANS}`, color: "#222" }}>{t}</div>
      ))}
    </div>
  );
}
